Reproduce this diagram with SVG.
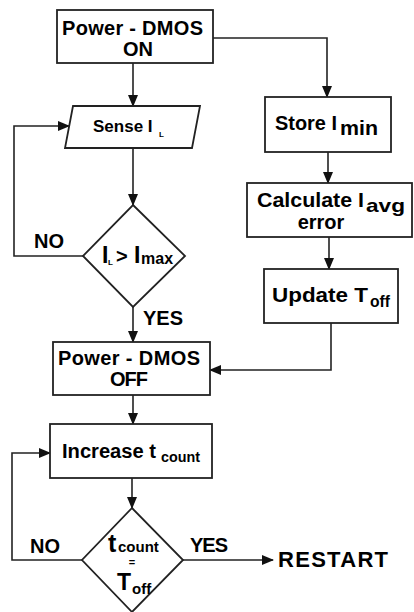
<svg xmlns="http://www.w3.org/2000/svg" width="414" height="612" viewBox="0 0 414 612">
<style>
.box{fill:#fff;stroke:#222;stroke-width:1.8}
.ln{fill:none;stroke:#222;stroke-width:1.6}
text{font-family:"Liberation Sans",Arial,sans-serif;font-weight:bold;fill:#000}
.m{font-size:20px}
.lab{font-size:20px}
</style>
<defs>
<marker id="ah" markerUnits="userSpaceOnUse" markerWidth="12" markerHeight="10" refX="11" refY="5" orient="auto">
<path d="M0,0 L12,5 L0,10 Z" fill="#111"/>
</marker>
</defs>
<rect width="414" height="612" fill="#fff"/>
<g id="connectors">
<path class="ln" d="M133,63 V106" marker-end="url(#ah)"/>
<path class="ln" d="M213,38 H327 V97" marker-end="url(#ah)"/>
<path class="ln" d="M133,148 V205" marker-end="url(#ah)"/>
<path class="ln" d="M328,152 V183" marker-end="url(#ah)"/>
<path class="ln" d="M329,237 V269" marker-end="url(#ah)"/>
<path class="ln" d="M83,256 H14 V126 H69" marker-end="url(#ah)"/>
<path class="ln" d="M133,307 V342" marker-end="url(#ah)"/>
<path class="ln" d="M331,323 V370 H210" marker-end="url(#ah)"/>
<path class="ln" d="M133,395 V424" marker-end="url(#ah)"/>
<path class="ln" d="M132,478 V508" marker-end="url(#ah)"/>
<path class="ln" d="M82,560 H12 V453 H50" marker-end="url(#ah)"/>
<path class="ln" d="M183,560 H273" marker-end="url(#ah)"/>
<text class="lab" x="34" y="248" textLength="30">NO</text>
<text class="lab" x="143" y="325" textLength="40">YES</text>
<text class="lab" x="30" y="553" textLength="30">NO</text>
<text class="lab" x="190" y="552" textLength="38">YES</text>
</g>
<g id="on">
<rect class="box" x="57" y="10" width="156" height="53"/>
<text class="m" x="62" y="35" textLength="141">Power - DMOS</text>
<text class="m" x="123" y="56" textLength="30">ON</text>
</g>
<g id="sense">
<polygon class="box" points="73,106 200,106 192,148 65,148"/>
<text x="93" y="132" style="font-size:17px">Sense I<tspan x="159" y="137" style="font-size:8px">L</tspan></text>
</g>
<g id="store">
<rect class="box" x="265" y="97" width="126" height="55"/>
<text class="m" x="275" y="130"><tspan textLength="62" lengthAdjust="spacingAndGlyphs">Store I</tspan><tspan x="340" y="135" textLength="38" lengthAdjust="spacingAndGlyphs">min</tspan></text>
</g>
<g id="calc">
<rect class="box" x="247" y="183" width="165" height="54"/>
<text class="m" x="257" y="207"><tspan textLength="107" lengthAdjust="spacingAndGlyphs">Calculate I</tspan><tspan x="366" y="212" style="font-size:19px" textLength="39" lengthAdjust="spacingAndGlyphs">avg</tspan></text>
<text class="m" x="321" y="229" text-anchor="middle">error</text>
</g>
<g id="cmp1">
<polygon class="box" points="133,205 185,256 133,307 83,256"/>
<text x="102" y="263" style="font-size:23px">I<tspan x="108" y="265" style="font-size:8px">L</tspan><tspan x="116" y="263" style="font-size:20px">&gt;</tspan><tspan x="134" y="263">I</tspan><tspan x="141" y="264" style="font-size:16px">max</tspan></text>
</g>
<g id="update">
<rect class="box" x="264" y="269" width="134" height="54"/>
<text class="m" x="272" y="302" style="font-size:21px"><tspan textLength="96" lengthAdjust="spacingAndGlyphs">Update T</tspan><tspan x="370" y="307" style="font-size:16px" textLength="20" lengthAdjust="spacingAndGlyphs">off</tspan></text>
</g>
<g id="off">
<rect class="box" x="53" y="342" width="157" height="53"/>
<text class="m" x="58" y="365" textLength="142">Power - DMOS</text>
<text class="m" x="110" y="386" textLength="38">OFF</text>
</g>
<g id="inc">
<rect class="box" x="50" y="424" width="162" height="54"/>
<text class="m" x="62" y="458"><tspan textLength="94" lengthAdjust="spacingAndGlyphs">Increase t</tspan><tspan x="161" y="462" style="font-size:15px" textLength="39" lengthAdjust="spacingAndGlyphs">count</tspan></text>
</g>
<g id="cmp2">
<polygon class="box" points="132,508 183,560 132,612 82,560"/>
<text x="108" y="552" style="font-size:25px">t<tspan x="118" y="552" style="font-size:15px">count</tspan></text>
<text x="132" y="566" text-anchor="middle" style="font-size:11px">=</text>
<text x="117" y="590" style="font-size:23px">T<tspan x="132" y="594" style="font-size:15px">off</tspan></text>
</g>
<g id="restart">
<text x="278" y="567" style="font-size:22px" textLength="110">RESTART</text>
</g>
</svg>
